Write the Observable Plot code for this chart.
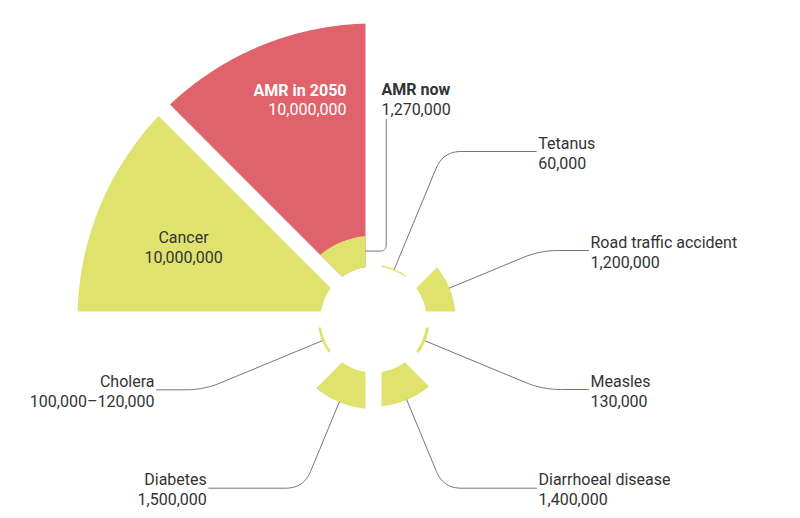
<!DOCTYPE html>
<html><head><meta charset="utf-8">
<script src="https://cdn.jsdelivr.net/npm/d3@7"></script>
<script src="https://cdn.jsdelivr.net/npm/@observablehq/plot@0.6"></script>
<style>body{margin:0;background:#fff}</style>
</head><body><div id="chart"></div>
<script>
// ---- data ----
const causes = ["Tetanus","Road traffic accident","Measles","Diarrhoeal disease","Diabetes","Cholera","Cancer","AMR in 2050"];
const deaths = [60000, 1200000, 130000, 1400000, 1500000, 110000, 10000000, 10000000];
const deathLabels = ["60,000","1,200,000","130,000","1,400,000","1,500,000","100,000–120,000","10,000,000","10,000,000"];
const amrNowName = "AMR now";
const amrNowValue = 1270000;
const amrNowLabel = "1,270,000";

// ---- layout (pixels relative to centre) ----
const leaderY = [-168, -69, 70, 168.7, 168.7, 70.3];
const leaderX = [162.7, 215, 215, 163, -164.7, -217];
const pad = 8;
const yellow = "#dfe36e", red = "#e0636b", ink = "#333", lineColor = "#777";

const r = d3.scaleLinear().domain([0, 1e7]).range([53, 296]);
const step = Math.PI / 4;

function sector(key, a0, a1, r0, r1) {
  const pts = [], n = 80;
  const o1 = Math.asin(pad / r1), o0 = Math.asin(pad / r0);
  for (let i = 0; i <= n; i++) { const a = a0 + o1 + (a1 - a0 - 2 * o1) * i / n; pts.push({key, x: r1 * Math.sin(a), y: -r1 * Math.cos(a)}); }
  for (let i = n; i >= 0; i--) { const a = a0 + o0 + (a1 - a0 - 2 * o0) * i / n; pts.push({key, x: r0 * Math.sin(a), y: -r0 * Math.cos(a)}); }
  return pts;
}
function rounded(key, p0, c, p1, k) {
  const u = (a, b) => { const dx = b.x - a.x, dy = b.y - a.y, l = Math.hypot(dx, dy); return {x: dx / l, y: dy / l}; };
  const ua = u(p0, c), ub = u(c, p1);
  const a = {x: c.x - k * ua.x, y: c.y - k * ua.y}, b = {x: c.x + k * ub.x, y: c.y + k * ub.y};
  const pts = [{key, ...p0}];
  for (let i = 0; i <= 12; i++) {
    const t = i / 12;
    pts.push({key, x: (1-t)*(1-t)*a.x + 2*(1-t)*t*c.x + t*t*b.x, y: (1-t)*(1-t)*a.y + 2*(1-t)*t*c.y + t*t*b.y});
  }
  pts.push({key, ...p1});
  return pts;
}

const r0 = r(0);
const yellowSectors = [], redSectors = [];
causes.forEach((c, i) => {
  const s = sector(c, i * step, (i + 1) * step, r0, r(deaths[i]));
  (c === "AMR in 2050" ? redSectors : yellowSectors).push(...s);
});
const amrIndex = causes.indexOf("AMR in 2050");
const nowSector = sector(amrNowName, amrIndex * step, (amrIndex + 1) * step, r0, r(amrNowValue));

// leaders for small causes
const leaders = [];
const labels = [];
for (let i = 0; i < 6; i++) {
  const am = (i + 0.5) * step;
  const rs = r(deaths[i]);
  const p0 = {x: rs * Math.sin(am), y: -rs * Math.cos(am)};
  const uy = -Math.cos(am), ux = Math.sin(am);
  const t = (leaderY[i] - p0.y) / uy;
  const c = {x: p0.x + t * ux, y: leaderY[i]};
  const p1 = {x: leaderX[i], y: leaderY[i]};
  leaders.push(...rounded(causes[i], p0, c, p1, 18));
  const right = leaderX[i] > 0;
  labels.push({x: leaderX[i] + (right ? 2 : -2), y: leaderY[i] - 3, t: causes[i], right});
  labels.push({x: leaderX[i] + (right ? 2 : -2), y: leaderY[i] + 17, t: deathLabels[i], right});
}
// AMR now leader
const nowStart = {x: -pad, y: -(r0 + r(amrNowValue)) / 2};
leaders.push(...rounded(amrNowName, nowStart, {x: 12.7, y: nowStart.y}, {x: 12.7, y: -200}, 6));

const font = "Roboto, 'DejaVu Sans', sans-serif";
const base = {x: "x", y: "y", text: "t", lineAnchor: "bottom", fontSize: 16, fill: ink};

const plot = Plot.plot({
  width: 800, height: 518,
  margin: 0,
  x: {domain: [-373, 427], range: [0, 800], axis: null},
  y: {domain: [-319, 199], range: [0, 518], axis: null},
  style: {fontFamily: font, background: "#fff"},
  marks: [
    Plot.line(yellowSectors, {x: "x", y: "y", z: "key", fill: yellow, stroke: "none"}),
    Plot.line(redSectors, {x: "x", y: "y", z: "key", fill: red, stroke: "none"}),
    Plot.line(nowSector, {x: "x", y: "y", z: "key", fill: yellow, stroke: "none"}),
    Plot.line(leaders, {x: "x", y: "y", z: "key", stroke: lineColor, strokeWidth: 1}),
    Plot.text(labels.filter(d => d.right), {...base, textAnchor: "start"}),
    Plot.text(labels.filter(d => !d.right), {...base, textAnchor: "end"}),
    // Cancer
    Plot.text([{x: -190, y: -77, t: causes[6]}, {x: -190, y: -57, t: deathLabels[6]}], {...base, textAnchor: "middle"}),
    // AMR in 2050
    Plot.text([{x: -27, y: -224, t: causes[7]}], {...base, textAnchor: "end", fontWeight: "bold", fill: "#fff"}),
    Plot.text([{x: -27, y: -205, t: deathLabels[7]}], {...base, textAnchor: "end", fill: "#fff"}),
    // AMR now
    Plot.text([{x: 8, y: -225, t: amrNowName}], {...base, textAnchor: "start", fontWeight: "bold"}),
    Plot.text([{x: 8, y: -205, t: amrNowLabel}], {...base, textAnchor: "start"})
  ]
});
document.getElementById("chart").appendChild(plot);
</script>
</body></html>
